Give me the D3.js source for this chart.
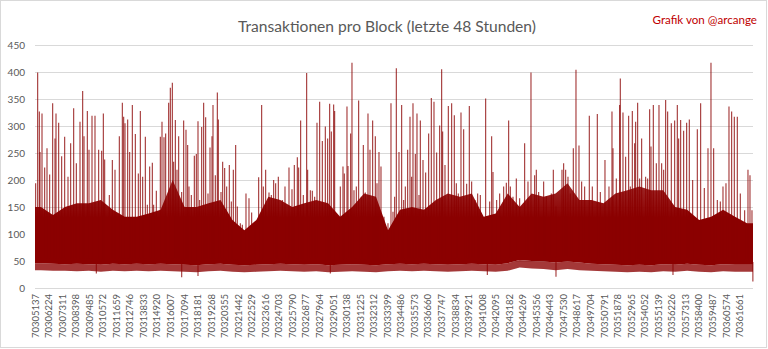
<!DOCTYPE html>
<html><head><meta charset="utf-8">
<script src="https://cdn.jsdelivr.net/npm/d3@7"></script>
<style>body{margin:0;background:#fff}svg{display:block}</style>
</head><body><svg id="c" width="768" height="349"></svg>
<script>
// ---------- DATA ----------
const title = "Transaktionen pro Block (letzte 48 Stunden)";
const credit = "Grafik von @arcange";
const startBlock = 70305137;
const blockCount = 57600;          // 48 h of blocks
const labelStep = 1087;
const tickLabels = d3.range(53).map(k => String(startBlock + k * labelStep));
const yTicks = [0, 50, 100, 150, 200, 250, 300, 350, 400, 450];

// dense body envelope, 60 bins of 960 blocks each (tx per block)
const bodyTop = [150,135,150,157,157,163,145,132,132,138,
                 145,200,150,150,157,163,126,107,126,169,
                 163,150,157,163,157,132,150,175,169,107,
                 145,150,145,163,175,169,175,132,138,175,
                 150,175,169,175,194,163,163,157,175,181,
                 188,181,181,150,145,126,132,145,132,120];
const bodyBottom = [46,45,44,45,44,43,45,44,45,44,
                    45,44,43,42,44,45,43,42,43,44,
                    45,44,43,44,42,43,44,43,42,44,
                    45,44,45,44,43,44,45,44,43,46,
                    52,50,49,47,49,47,45,44,43,42,
                    43,42,44,43,45,43,42,44,43,43];
const fringeBottom = [33,32,32,31,32,30,32,31,32,31,
                      32,31,30,29,31,32,30,29,30,31,
                      32,31,30,31,29,30,31,30,29,31,
                      32,31,32,31,30,31,32,31,30,32,
                      38,36,35,33,35,33,32,31,30,29,
                      30,29,31,30,32,30,29,31,30,30];

// individual high blocks: [block offset, tx count]
const spikes = [
 [53,194],[214,399],[347,327],[401,252],[562,323],[775,223],[963,259],[1177,210],[1417,342],[1604,277],
 [1685,323],[1899,306],[2139,244],[2380,280],[2647,206],[2861,268],[3102,333],[3316,231],[3610,308],[3824,365],
 [3931,281],[4198,328],[4332,256],[4573,319],[4813,319],[5107,256],[5348,254],[5482,323],[5589,238],[5963,172],
 [6204,237],[6418,219],[6765,281],[7006,343],[7113,317],[7220,305],[7434,312],[7594,252],[7808,339],[8049,285],
 [8289,212],[8450,328],[8637,206],[8851,280],[9011,154],[9199,225],[9412,232],[9519,154],
 [9733,180],[10054,280],[10188,308],[10348,279],[10482,286],[10723,343],[10856,371],[11017,380],[11124,234],[11258,311],
 [11391,219],[11525,281],[11766,178],[11926,310],[12113,293],[12247,265],[12354,188],[12541,172],[12782,245],[12942,248],
 [13076,309],[13210,163],[13370,298],[13530,343],[13691,316],[13878,175],[14039,260],[14199,281],[14279,339],[14466,209],
 [14627,362],[14707,312],[14921,178],[15055,234],[15215,222],[15376,188],[15589,228],[15750,160],[15910,219],[16098,265],
 [16231,151],[16472,120],[16632,117],[16926,175],[17167,166],[17381,140],[17622,120],[17943,205],[18183,339],[18317,188],
 [18504,219],[18772,177],[18959,172],[19146,200],
 [19306,194],[19520,206],[19841,163],[20055,188],[20376,223],[20616,183],[20803,228],[21044,242],[21151,223],[21311,310],
 [21525,172],[21793,398],[21873,219],[22087,181],[22247,180],[22434,169],[22622,306],[22836,345],[23050,272],[23290,299],
 [23477,277],[23638,341],[23772,290],[23959,340],[24039,328],[24493,188],[24707,225],[24814,212],[25028,336],[25109,226],
 [25322,286],[25429,417],[25590,181],[25777,188],[25964,347],[26178,169],[26339,265],[26499,177],[26713,323],[26873,256],
 [27087,310],[27301,281],[27435,194],[27595,252],[27756,225],[27996,132],[28317,120],[28558,342],[28719,141],
 [28853,169],[28986,407],[29200,252],[29414,339],[29575,163],[29708,188],[29896,256],[30083,317],[30216,206],[30323,342],
 [30511,248],[30644,323],[30805,172],[30912,310],[31126,237],[31340,214],[31580,286],[31794,352],[32008,345],[32222,251],
 [32463,301],[32623,405],[32703,290],[32890,228],[33158,337],[33425,342],[33639,320],[33800,194],[33960,175],[34174,325],
 [34388,294],[34629,193],[34842,337],[35029,197],[35297,163],[35511,175],[35725,172],[36153,351],[36474,160],[36634,281],
 [36741,215],[37035,163],[37276,175],[37597,188],[37811,195],[37998,310],[38132,188],[38345,169],
 [38612,203],[38880,166],[39281,268],[39548,197],[39789,399],[40083,209],[40217,219],[40404,178],[40805,197],[41019,169],
 [41420,175],[41581,219],[41794,151],[42276,219],[42409,231],[42570,219],[42757,206],[42944,175],[43185,259],[43399,404],
 [43640,264],[43853,197],[44094,188],[44468,319],[44709,188],[45110,322],[45351,178],[45725,237],[46046,188],[46287,327],
 [46367,259],[46634,203],[46902,339],[46955,388],[47169,325],[47383,243],[47624,319],[47758,188],[47918,328],[48105,268],
 [48186,308],[48346,343],[48507,203],[48667,277],[48988,206],[49149,203],[49309,331],[49416,262],[49603,339],[49844,231],
 [50058,339],[50272,231],[50432,219],[50593,348],[50753,327],[51047,305],[51315,310],[51528,339],[51635,277],[51796,311],
 [52036,291],[52277,306],[52491,312],[52759,200],[53133,294],[53400,342],[53694,185],[53989,259],[54229,417],[54443,259],
 [54737,163],[54978,160],[55192,188],[55432,194],[55673,336],[55887,327],[56101,317],[56341,317],[56582,175],[56930,144],
 [57197,219],[57358,209],[57518,144]
];
// individual low blocks: [block offset, tx count]
const dips = [[4920,27],[11768,20],[13076,22],[23691,27],[36287,24],[41795,21],[51181,24],[57590,12]];

// ---------- CHART ----------
const svg = d3.select("#c");
const W = 768, H = 349;
const m = {left: 35, right: 753, top: 45, bottom: 288};
const red = "#8b0000", grey = "#595959";
const font = "Lato, 'Open Sans', sans-serif";

svg.append("rect").attr("x",0.5).attr("y",0.5).attr("width",W-2).attr("height",H-2)
  .attr("fill","#fff").attr("stroke","#d9d9d9");

const x = d3.scaleLinear().domain([0, blockCount]).range([m.left, m.right]);
const y = d3.scaleLinear().domain([0, 450]).range([m.bottom, m.top]);

// grid
svg.append("g").selectAll("line").data(yTicks).join("line")
  .attr("x1", m.left).attr("x2", m.right)
  .attr("y1", d => Math.round(y(d)) + 0.5).attr("y2", d => Math.round(y(d)) + 0.5)
  .attr("stroke", "#d9d9d9").attr("stroke-width", 1);

// y labels
const yAxis = d3.axisLeft(y).tickValues(yTicks).tickSize(0).tickPadding(0);
const gy = svg.append("g").attr("transform", `translate(${m.left - 10},0)`).call(yAxis);
gy.select(".domain").remove();
gy.selectAll("text").attr("fill", grey).style("font-family", font).style("font-size","10px");

// gradient so the top of the dense body looks ragged like the original
const defs = svg.append("defs");
const grad = defs.append("linearGradient").attr("id","bodyGrad")
  .attr("gradientUnits","userSpaceOnUse").attr("x1",0).attr("x2",0)
  .attr("y1", y(0)).attr("y2", y(210));
grad.append("stop").attr("offset","0").attr("stop-color",red).attr("stop-opacity",1);
grad.append("stop").attr("offset","0.62").attr("stop-color",red).attr("stop-opacity",1);
grad.append("stop").attr("offset","1").attr("stop-color",red).attr("stop-opacity",0.8);

// body
const binW = blockCount / bodyTop.length;
const bins = bodyTop.map((t, i) => ({c: (i + 0.5) * binW, t, b: bodyBottom[i], f: fringeBottom[i]}));
const pts = [{...bins[0], c: 0}, ...bins, {...bins[bins.length-1], c: blockCount}];
svg.append("path").datum(pts)
  .attr("d", d3.area().x(d => x(d.c)).y0(d => y(d.f)).y1(d => y(d.b)).curve(d3.curveLinear))
  .attr("fill", red).attr("opacity", 0.78);
svg.append("path").datum(pts)
  .attr("d", d3.area().x(d => x(d.c)).y0(d => y(d.b)).y1(d => y(d.t)).curve(d3.curveLinear))
  .attr("fill", "url(#bodyGrad)");

// spikes
const binOf = o => bins[Math.min(bins.length - 1, Math.floor(o / binW))];
svg.append("g").selectAll("line").data(spikes).join("line")
  .attr("x1", d => x(d[0])).attr("x2", d => x(d[0]))
  .attr("y1", d => y(binOf(d[0]).b + 10)).attr("y2", d => y(d[1]))
  .attr("stroke", red).attr("stroke-width", 1.1).attr("opacity", 0.8);
svg.append("g").selectAll("line").data(dips).join("line")
  .attr("x1", d => x(d[0])).attr("x2", d => x(d[0]))
  .attr("y1", d => y(binOf(d[0]).b + 5)).attr("y2", d => y(d[1]))
  .attr("stroke", red).attr("stroke-width", 1.1).attr("opacity", 0.8);

// x labels
const xl = svg.append("g");
tickLabels.forEach((lab, k) => {
  const px = x(k * labelStep);
  xl.append("text").attr("transform", `translate(${px + 3.5},294) rotate(-90)`)
    .attr("text-anchor", "end").attr("fill", grey)
    .style("font-family", font).style("font-size","9.5px").text(lab);
});

// titles
svg.append("text").attr("x", 387).attr("y", 32).attr("text-anchor","middle").attr("fill", grey)
  .style("font-family", font).style("font-size","15.6px").text(title);
svg.append("text").attr("x", 757).attr("y", 24).attr("text-anchor","end").attr("fill", "#c00000")
  .style("font-family", font).style("font-size","11.6px").text(credit);
</script></body></html>
